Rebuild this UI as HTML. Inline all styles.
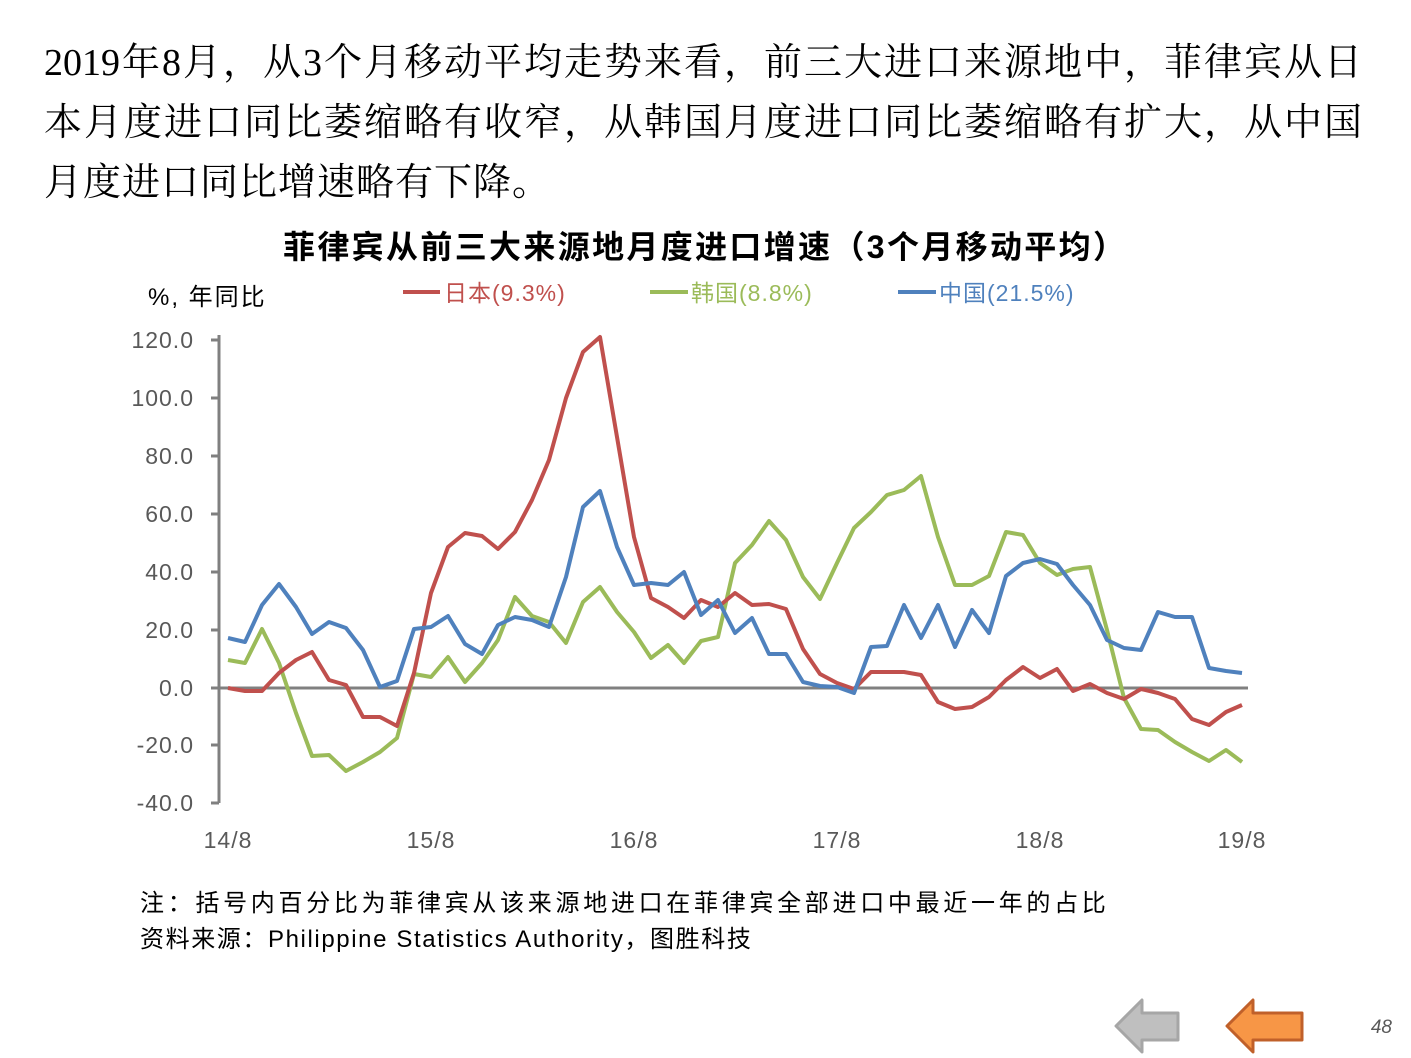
<!DOCTYPE html>
<html><head><meta charset="utf-8">
<style>
html,body{margin:0;padding:0;background:#fff;}
body{width:1411px;height:1058px;position:relative;overflow:hidden;}
.p{position:absolute;left:44px;width:1318px;font-family:"Liberation Serif","Noto Serif CJK SC",serif;font-size:38px;color:#000;line-height:60px;white-space:nowrap;}
.j{text-align:justify;text-align-last:justify;}
.t{position:absolute;font-family:"Liberation Sans","Noto Sans CJK SC",sans-serif;white-space:nowrap;}
</style></head><body>
<div class="p j" style="top:33px">2019年8月，从3个月移动平均走势来看，前三大进口来源地中，菲律宾从日</div>
<div class="p j" style="top:93px">本月度进口同比萎缩略有收窄，从韩国月度进口同比萎缩略有扩大，从中国</div>
<div class="p" style="top:153px;letter-spacing:1px">月度进口同比增速略有下降。</div>
<div class="t" style="left:283px;width:842px;text-align:justify;text-align-last:justify;top:222px;font-size:32px;font-weight:bold;">菲律宾从前三大来源地月度进口增速（3个月移动平均）</div>
<div class="t" style="left:148px;top:277px;font-size:24px;letter-spacing:2px;color:#000">%, 年同比</div>
<svg width="1411" height="1058" style="position:absolute;left:0;top:0" xmlns="http://www.w3.org/2000/svg">
<g font-family="Liberation Sans, Noto Sans CJK SC, sans-serif" font-size="23" letter-spacing="1">
<line x1="403" y1="292" x2="440" y2="292" stroke="#C0504D" stroke-width="4"/>
<text x="444" y="301" fill="#C0504D">日本(9.3%)</text>
<line x1="650" y1="292" x2="688" y2="292" stroke="#9BBB59" stroke-width="4"/>
<text x="691" y="301" fill="#9BBB59">韩国(8.8%)</text>
<line x1="898" y1="292" x2="936" y2="292" stroke="#4F81BD" stroke-width="4"/>
<text x="939" y="301" fill="#4F81BD">中国(21.5%)</text>
</g>
<g stroke="#808080" stroke-width="3">
<line x1="219" y1="335" x2="219" y2="803"/>
<line x1="219" y1="688" x2="1248" y2="688"/>
<line x1="211" y1="340" x2="219" y2="340"/><line x1="211" y1="398" x2="219" y2="398"/>
<line x1="211" y1="456" x2="219" y2="456"/><line x1="211" y1="514" x2="219" y2="514"/>
<line x1="211" y1="572" x2="219" y2="572"/><line x1="211" y1="630" x2="219" y2="630"/>
<line x1="211" y1="688" x2="219" y2="688"/><line x1="211" y1="745" x2="219" y2="745"/>
<line x1="211" y1="803" x2="219" y2="803"/>
</g>
<g font-family="Liberation Sans, sans-serif" font-size="23" fill="#595959" text-anchor="end" letter-spacing="1">
<text x="194" y="348">120.0</text><text x="194" y="406">100.0</text>
<text x="194" y="464">80.0</text><text x="194" y="522">60.0</text>
<text x="194" y="580">40.0</text><text x="194" y="638">20.0</text>
<text x="194" y="696">0.0</text><text x="194" y="753">-20.0</text>
<text x="194" y="811">-40.0</text>
</g>
<g font-family="Liberation Sans, sans-serif" font-size="23" fill="#595959" text-anchor="middle" letter-spacing="1">
<text x="228" y="848">14/8</text><text x="431" y="848">15/8</text><text x="634" y="848">16/8</text>
<text x="837" y="848">17/8</text><text x="1040" y="848">18/8</text><text x="1242" y="848">19/8</text>
</g>
<g fill="none" stroke-width="4" stroke-linejoin="round">
<polyline stroke="#9BBB59" points="228,660 245,663 262,629 279,663 296,713 312,756 329,755 346,771 363,762 380,752 397,738 414,674 431,677 448,657 465,682 482,663 498,640 515,597 532,616 549,622 566,643 583,602 600,587 617,612 634,632 651,658 668,645 684,663 701,641 718,637 735,563 752,545 769,521 786,540 803,577 820,599 837,563 854,528 871,512 887,495 904,490 921,476 938,537 955,585 972,585 989,576 1006,532 1023,535 1040,563 1057,575 1073,569 1090,567 1107,630 1124,698 1141,729 1158,730 1175,742 1192,752 1209,761 1226,750 1242,762"/>
<polyline stroke="#C0504D" points="228,688 245,691 262,691 279,673 296,660 312,652 329,680 346,685 363,717 380,717 397,726 414,673 431,593 448,547 465,533 482,536 498,549 515,532 532,500 549,460 566,398 583,352 600,337 617,437 634,537 651,598 668,607 684,618 701,600 718,607 735,593 752,605 769,604 786,609 803,649 820,674 837,683 854,689 871,672 887,672 904,672 921,675 938,702 955,709 972,707 989,697 1006,680 1023,667 1040,678 1057,669 1073,691 1090,684 1107,693 1124,699 1141,689 1158,693 1175,699 1192,719 1209,725 1226,712 1242,705"/>
<polyline stroke="#4F81BD" points="228,638 245,642 262,605 279,584 296,607 312,634 329,622 346,628 363,650 380,687 397,681 414,629 431,627 448,616 465,644 482,654 498,625 515,617 532,620 549,627 566,577 583,507 600,491 617,547 634,585 651,583 668,585 684,572 701,615 718,600 735,633 752,618 769,654 786,654 803,682 820,686 837,687 854,693 871,647 887,646 904,605 921,638 938,605 955,647 972,610 989,633 1006,576 1023,563 1040,559 1057,564 1073,585 1090,605 1107,640 1124,648 1141,650 1158,612 1175,617 1192,617 1209,668 1226,671 1242,673"/>
</g>
<polygon points="1116,1026 1142,1000 1142,1013 1178,1013 1178,1040 1142,1040 1142,1052" fill="#BFBFBF" stroke="#A6A6A6" stroke-width="3" stroke-linejoin="round"/>
<polygon points="1227,1026 1253,1000 1253,1013 1302,1013 1302,1040 1253,1040 1253,1052" fill="#F79646" stroke="#C0602A" stroke-width="3" stroke-linejoin="round"/>
<text x="1392" y="1033" font-family="Liberation Sans, sans-serif" font-size="19" font-style="italic" fill="#595959" text-anchor="end">48</text>
</svg>
<div class="t" style="left:140px;top:883px;font-size:24px;letter-spacing:3.7px;color:#000">注：括号内百分比为菲律宾从该来源地进口在菲律宾全部进口中最近一年的占比</div>
<div class="t" style="left:140px;top:919px;font-size:24px;letter-spacing:1.6px;color:#000">资料来源：Philippine Statistics Authority，图胜科技</div>
</body></html>
